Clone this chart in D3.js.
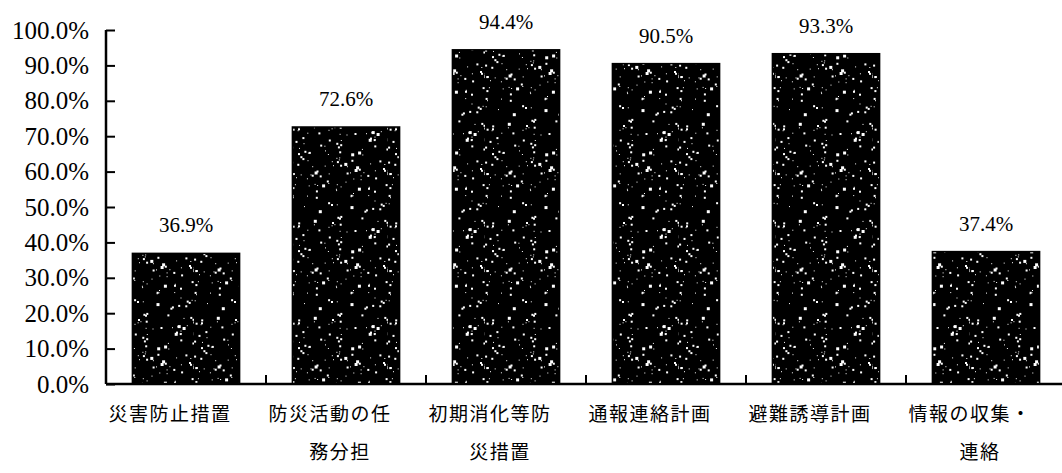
<!DOCTYPE html>
<html>
<head>
<meta charset="utf-8">
<script src="https://cdn.jsdelivr.net/npm/d3@7/dist/d3.min.js"></script>
<style>
  html, body { margin: 0; padding: 0; background: #fff; }
  svg { display: block; }
</style>
</head>
<body>
<svg id="chart" width="1062" height="473"></svg>
<script>
// Survey items and implementation rates (%)
const categories = [
  "災害防止措置",
  "防災活動の任務分担",
  "初期消化等防災措置",
  "通報連絡計画",
  "避難誘導計画",
  "情報の収集・連絡"
];
const rates = [36.9, 72.6, 94.4, 90.5, 93.3, 37.4];
const yTicks = [0, 10, 20, 30, 40, 50, 60, 70, 80, 90, 100];

(function () {
const svg = d3.select("#chart");
const W = 1062;
const plotLeft = 106, plotRight = 1066, plotTop = 30, plotBottom = 384;

const x = d3.scaleBand()
  .domain(categories)
  .range([plotLeft, plotRight])
  .paddingInner(0.33)
  .paddingOuter(0.165);

const y = d3.scaleLinear().domain([0, 100]).range([plotBottom, plotTop]);

// Speckled black fill for the bars
const tile = 97;
const defs = svg.append("defs");
const pat = defs.append("pattern")
  .attr("id", "speckle")
  .attr("patternUnits", "userSpaceOnUse")
  .attr("width", tile).attr("height", tile);
pat.append("rect").attr("width", tile).attr("height", tile).attr("fill", "#000");
let seed = 11;
function nextRand() { seed = (seed * 16807) % 2147483647; return seed / 2147483647; }
for (let i = 0; i < 150; i++) {
  const s = 1 + Math.floor(nextRand() * 2.2);
  pat.append("rect")
    .attr("x", (nextRand() * tile).toFixed(1))
    .attr("y", (nextRand() * tile).toFixed(1))
    .attr("width", s).attr("height", s)
    .attr("fill", "#fff");
}

// Bars
svg.append("g").selectAll("rect")
  .data(categories)
  .join("rect")
  .attr("x", d => x(d))
  .attr("y", (d, i) => y(rates[i]))
  .attr("width", x.bandwidth())
  .attr("height", (d, i) => y(0) - y(rates[i]))
  .attr("fill", "url(#speckle)")
  .attr("stroke", "#000")
  .attr("stroke-width", 1.5);

// Value labels
svg.append("g").selectAll("text")
  .data(categories)
  .join("text")
  .attr("x", d => x(d) + x.bandwidth() / 2)
  .attr("y", (d, i) => y(rates[i]) - 21)
  .attr("text-anchor", "middle")
  .attr("font-family", "'Liberation Serif', 'DejaVu Serif', serif")
  .attr("font-size", 21)
  .attr("fill", "#000")
  .text((d, i) => rates[i].toFixed(1) + "%");

// Y axis with inward ticks
const yAxis = d3.axisRight(y)
  .tickValues(yTicks)
  .tickSize(9)
  .tickFormat(d => d.toFixed(1) + "%");
const gy = svg.append("g").attr("transform", `translate(${plotLeft},0)`).call(yAxis);
gy.select(".domain").attr("stroke", "#000").attr("stroke-width", 2.5).attr("d", `M0,${plotTop}V${plotBottom}`);
gy.selectAll(".tick line").attr("stroke", "#000").attr("stroke-width", 2);
gy.selectAll(".tick text")
  .attr("x", -17)
  .attr("text-anchor", "end")
  .attr("font-family", "'Liberation Serif', 'DejaVu Serif', serif")
  .attr("font-size", 25)
  .attr("fill", "#000");

// X axis baseline with upward ticks between categories
svg.append("line")
  .attr("x1", plotLeft).attr("x2", W)
  .attr("y1", plotBottom).attr("y2", plotBottom)
  .attr("stroke", "#000").attr("stroke-width", 2.5);
const gap = x.step() - x.bandwidth();
svg.append("g").selectAll("line")
  .data(categories.slice(1))
  .join("line")
  .attr("x1", d => x(d) - gap / 2)
  .attr("x2", d => x(d) - gap / 2)
  .attr("y1", plotBottom).attr("y2", plotBottom - 9)
  .attr("stroke", "#000").attr("stroke-width", 2);

// Category labels, wrapped at six characters per line
const wrap = s => s.match(/.{1,6}/g);
const lab = svg.append("g").selectAll("text")
  .data(categories)
  .join("text")
  .attr("text-anchor", "middle")
  .attr("font-family", "'Noto Sans CJK JP', sans-serif")
  .attr("font-size", 19)
  .attr("letter-spacing", 1.5)
  .attr("fill", "#000");
lab.each(function (d) {
  const cx = x(d) + x.bandwidth() / 2;
  d3.select(this).selectAll("tspan")
    .data(wrap(d))
    .join("tspan")
    .attr("x", (t, j) => cx - (j === 0 ? 16 : 6))
    .attr("y", (t, j) => 421 + j * 38)
    .text(t => t);
});
})();
</script>
</body>
</html>
